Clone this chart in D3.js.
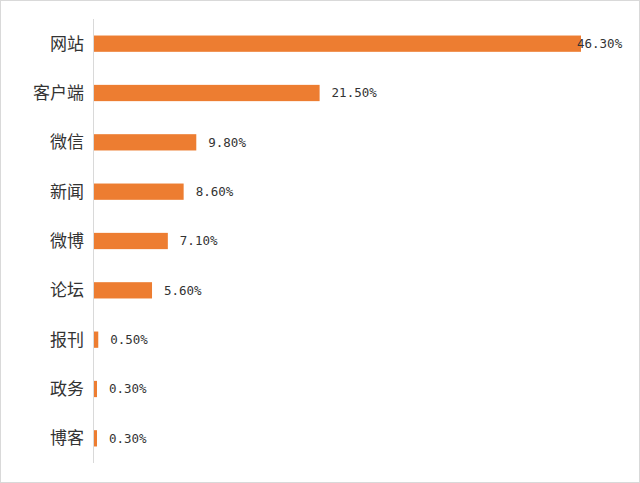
<!DOCTYPE html>
<html><head><meta charset="utf-8">
<script src="https://cdn.jsdelivr.net/npm/d3@7"></script>
<style>body{margin:0;background:#fff}</style>
</head><body>
<svg id="chart" width="640" height="483"></svg>
<script>
const categories = ['网站','客户端','微信','新闻','微博','论坛','报刊','政务','博客'];
const values = [46.3, 21.5, 9.8, 8.6, 7.1, 5.6, 0.5, 0.3, 0.3];

const svg = d3.select('#chart');
svg.append('rect').attr('x',0.5).attr('y',0.5).attr('width',639).attr('height',482)
  .attr('fill','#fff').attr('stroke','#d9d9d9');

const x = d3.scaleLinear().domain([0, 46.3]).range([93, 581]);
const y = d3.scaleBand().domain(categories).range([19, 463]).paddingInner(0.67).paddingOuter(0.335);

svg.append('line').attr('x1',93.5).attr('x2',93.5).attr('y1',19).attr('y2',463)
  .attr('stroke','#d9d9d9');

const barW = d => Math.max(3, x(d) - 94);

svg.selectAll('.bar').data(values).join('rect')
  .attr('x', 94)
  .attr('y', (d,i) => y(categories[i]))
  .attr('width', barW)
  .attr('height', y.bandwidth())
  .attr('fill', '#ed7d31');

svg.selectAll('.val').data(values).join('text')
  .attr('x', d => Math.min(94 + barW(d) + 12, 577))
  .attr('y', (d,i) => y(categories[i]) + y.bandwidth()/2)
  .attr('dy','0.35em')
  .attr('font-family','DejaVu Sans Mono, monospace').attr('font-size',12.5)
  .attr('fill','#333')
  .text(d => d.toFixed(2) + '%');

svg.selectAll('.cat').data(categories).join('text')
  .attr('x', 84)
  .attr('y', d => y(d) + y.bandwidth()/2)
  .attr('dy','0.35em')
  .attr('text-anchor','end')
  .attr('font-family','Noto Sans CJK SC, sans-serif').attr('font-size',17)
  .attr('fill','#333')
  .text(d => d);
</script>
</body></html>
